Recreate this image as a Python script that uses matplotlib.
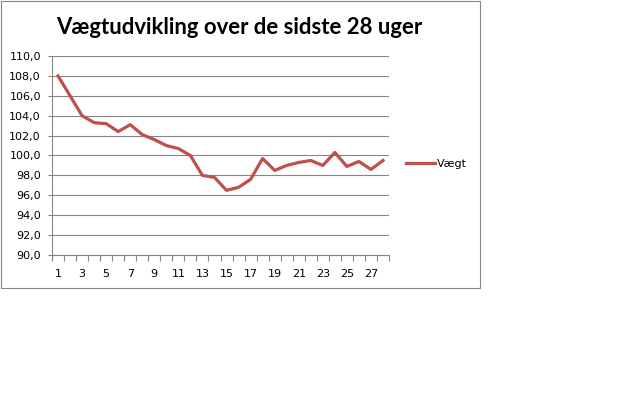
import matplotlib
matplotlib.use("Agg")
import matplotlib.pyplot as plt
from matplotlib.patches import Rectangle
from matplotlib.ticker import FixedLocator, FuncFormatter

# uge-numre og vaegt (aflaest fra billedet)
weeks = list(range(1, 29))
weights = [108.0, 106.0, 104.0, 103.3, 103.2, 102.4, 103.1, 102.1, 101.6, 101.0,
           100.7, 100.0, 98.0, 97.8, 96.5, 96.8, 97.6, 99.7, 98.5, 99.0,
           99.3, 99.5, 99.0, 100.3, 98.9, 99.4, 98.6, 99.5]
y_ticks = [90, 92, 94, 96, 98, 100, 102, 104, 106, 108, 110]
x_labels = weeks[::2]
title = "Vægtudvikling over de sidste 28 uger"
series_name = "Vægt"

line_color = "#C0504D"
grid_color = "#868686"

fig = plt.figure(figsize=(6.4, 4.0), dpi=100)
ax = fig.add_axes([52 / 640, 1 - 255 / 400, 337 / 640, 199 / 400])

ax.plot(weeks, weights, color=line_color, linewidth=2.3, label=series_name,
        solid_joinstyle="round")

ax.set_xlim(0.5, 28.5)
ax.set_ylim(90, 110)

ax.set_yticks(y_ticks)
ax.yaxis.set_major_formatter(FuncFormatter(lambda v, p: "{:.1f}".format(v).replace(".", ",")))
ax.yaxis.grid(True, color=grid_color, linewidth=0.8)
ax.set_axisbelow(True)

ax.xaxis.set_major_locator(FixedLocator(x_labels))
ax.xaxis.set_minor_locator(FixedLocator([w + 0.5 for w in [0] + weeks]))
ax.tick_params(axis="x", which="major", length=0, pad=10, labelsize=8)
ax.tick_params(axis="x", which="minor", length=4, color=grid_color, width=0.8)
ax.tick_params(axis="y", which="major", length=3, color=grid_color, width=0.8,
               labelsize=8, pad=5)

for side in ["top", "right"]:
    ax.spines[side].set_visible(False)
for side in ["left", "bottom"]:
    ax.spines[side].set_color(grid_color)
    ax.spines[side].set_linewidth(0.8)

fig.text(239 / 640, 1 - 27 / 400, title, ha="center", va="center",
         fontsize=15.9, fontweight="bold", family="Lato")

fig.legend(loc="center left", bbox_to_anchor=(406 / 640, 1 - 164 / 400),
           frameon=False, fontsize=8, handlelength=2.6, handletextpad=0.2,
           borderpad=0, borderaxespad=0)

fig.add_artist(Rectangle((0.5 / 640, 1 - 288 / 400), 479.5 / 640, 287.5 / 400,
                         transform=fig.transFigure, fill=False,
                         edgecolor=grid_color, linewidth=0.8))

plt.savefig("out.png", dpi=100)
